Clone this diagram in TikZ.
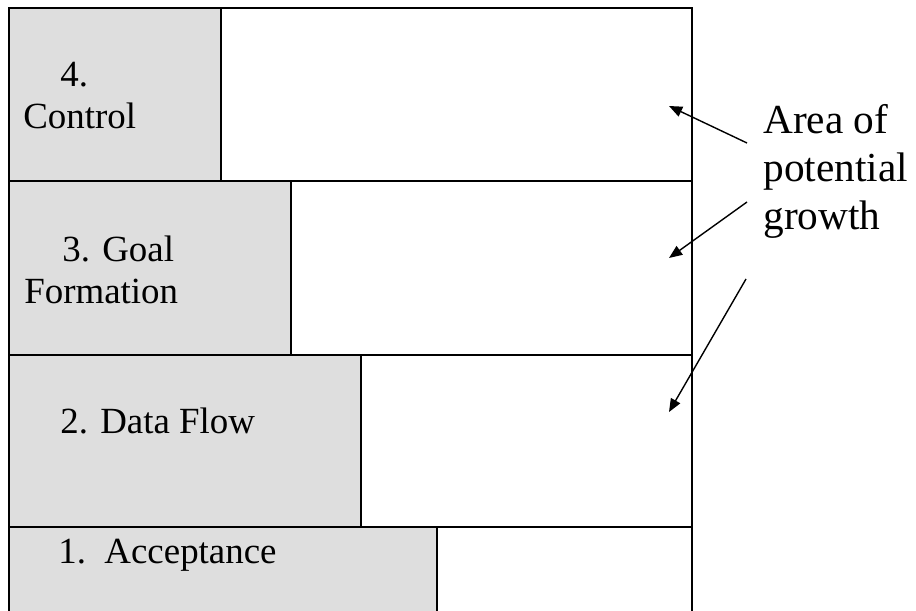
\documentclass[tikz,border=0pt]{standalone}
\usepackage{fontspec}
\setmainfont{Liberation Serif}
\usetikzlibrary{arrows.meta}
\definecolor{cellgray}{HTML}{DEDEDE}
\begin{document}
\begin{tikzpicture}[x=0.02cm,y=-0.02cm,
  rule/.style={line width=1.1pt},
  lbl/.style={anchor=base west, inner sep=0pt, font=\fontsize{21}{25}\selectfont},
  note/.style={anchor=base west, inner sep=0pt, font=\fontsize{23.5}{28}\selectfont},
  growarrow/.style={-{Triangle[length=7.5pt,width=6pt]}, line width=0.8pt}]
  \useasboundingbox (0,0) rectangle (916,611);

  % Row 4: Control
  \filldraw[rule, fill=cellgray] (9,8) rectangle (221,181);
  \draw[rule] (221,8) rectangle (692,181);
  \node[lbl] (ctrlnum) at (60,87) {4.};
  \node[lbl] (ctrl) at (23,129) {Control};

  % Row 3: Goal Formation
  \filldraw[rule, fill=cellgray] (9,181) rectangle (291,355);
  \draw[rule] (291,181) rectangle (692,355);
  \node[lbl] (goal) at (62,261) {3. Goal};
  \node[lbl] (form) at (24,303) {Formation};

  % Row 2: Data Flow
  \filldraw[rule, fill=cellgray] (9,355) rectangle (361,527);
  \draw[rule] (361,355) rectangle (692,527);
  \node[lbl] (data) at (60,433) {2. Data Flow};

  % Row 1: Acceptance (runs off the bottom edge)
  \filldraw[rule, fill=cellgray] (9,527) rectangle (437,640);
  \draw[rule] (437,527) rectangle (692,640);
  \node[lbl] (accept) at (58,563) {1.\ \ Acceptance};

  % Note on the right
  \node[note] (area) at (763,134) {Area of};
  \node[note] (potential) at (763,182) {potential};
  \node[note] (growth) at (763,230) {growth};

  % Arrows into the white areas
  \coordinate (tailC) at (747,143);
  \coordinate (tipC) at (669,106);
  \coordinate (tailG) at (747,202);
  \coordinate (tipG) at (669,258);
  \coordinate (tailD) at (746,279);
  \coordinate (tipD) at (669,412);
  \draw[growarrow] (tailC) -- (tipC);
  \draw[growarrow] (tailG) -- (tipG);
  \draw[growarrow] (tailD) -- (tipD);
\end{tikzpicture}
\end{document}
